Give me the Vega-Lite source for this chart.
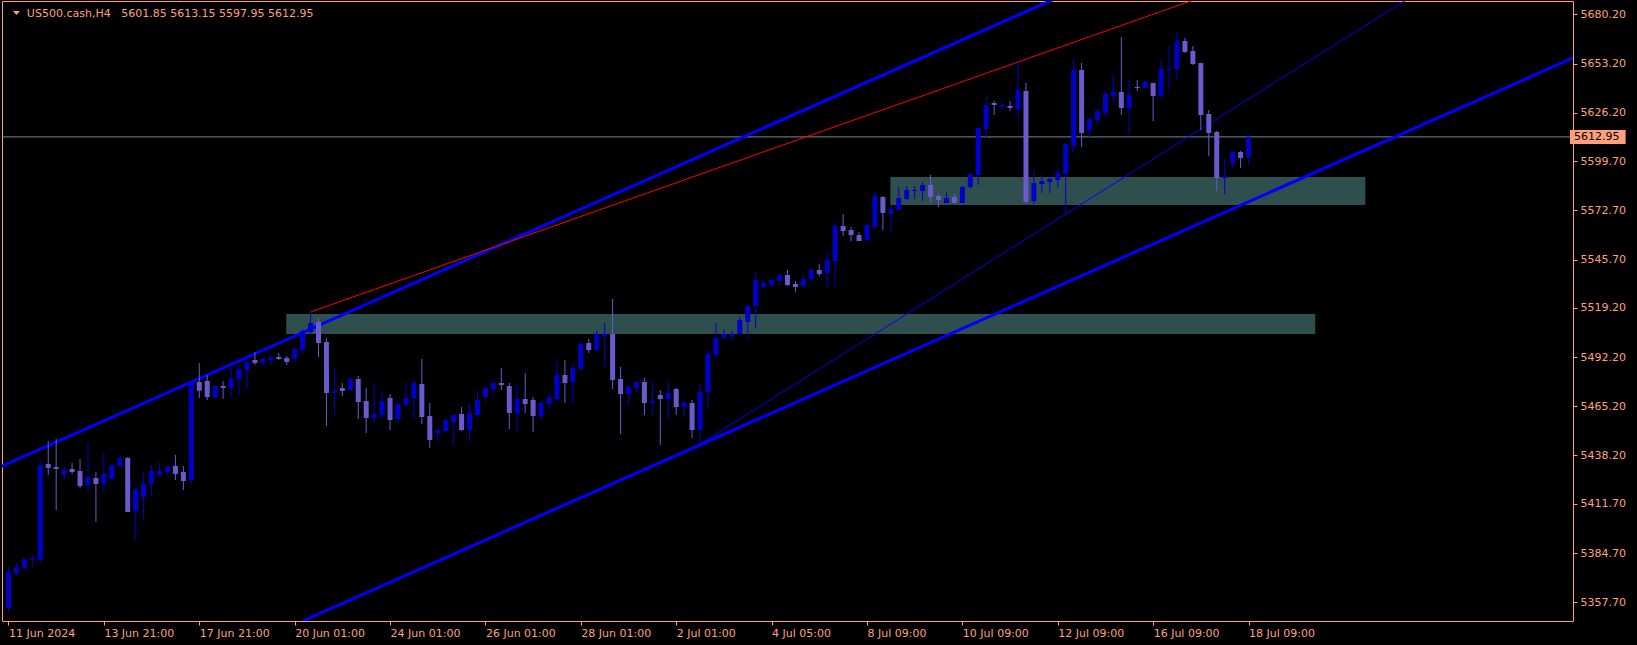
{
  "$schema": "https://vega.github.io/schema/vega-lite/v6.json",
  "width": 1571,
  "height": 620,
  "autosize": "none",
  "padding": {"left": 2, "top": 1, "right": 64, "bottom": 24},
  "background": "#000000",
  "config": {
    "view": {"stroke": "#FFA07A", "strokeWidth": 1},
    "font": "DejaVu Sans"
  },
  "resolve": {"axis": {"x": "independent", "y": "independent"}},
  "datasets": {
    "candles": [
      {"i":0,"o":5354.55,"h":5377.75,"l":5352.36,"c":5374.30},
      {"i":1,"o":5373.58,"h":5379.40,"l":5372.27,"c":5376.88},
      {"i":2,"o":5376.66,"h":5381.50,"l":5375.94,"c":5381.26},
      {"i":3,"o":5381.04,"h":5383.62,"l":5376.88,"c":5381.98},
      {"i":4,"o":5380.88,"h":5435.73,"l":5379.78,"c":5432.82},
      {"i":5,"o":5433.54,"h":5446.15,"l":5427.50,"c":5431.34},
      {"i":6,"o":5431.89,"h":5447.25,"l":5408.30,"c":5430.79},
      {"i":7,"o":5427.50,"h":5432.44,"l":5424.76,"c":5430.24},
      {"i":8,"o":5430.79,"h":5434.08,"l":5428.05,"c":5429.15},
      {"i":9,"o":5429.70,"h":5436.28,"l":5420.37,"c":5421.47},
      {"i":10,"o":5422.02,"h":5445.60,"l":5418.34,"c":5426.41},
      {"i":11,"o":5425.86,"h":5429.15,"l":5401.72,"c":5422.57},
      {"i":12,"o":5422.73,"h":5439.57,"l":5418.73,"c":5428.05},
      {"i":13,"o":5425.31,"h":5433.54,"l":5424.76,"c":5432.99},
      {"i":14,"o":5432.44,"h":5437.38,"l":5431.89,"c":5436.83},
      {"i":15,"o":5436.83,"h":5437.38,"l":5407.21,"c":5407.21},
      {"i":16,"o":5407.76,"h":5420.92,"l":5391.85,"c":5419.82},
      {"i":17,"o":5415.44,"h":5429.15,"l":5403.37,"c":5422.57},
      {"i":18,"o":5422.73,"h":5432.99,"l":5415.98,"c":5429.70},
      {"i":19,"o":5427.50,"h":5434.08,"l":5426.95,"c":5429.70},
      {"i":20,"o":5429.15,"h":5432.99,"l":5427.50,"c":5431.89},
      {"i":21,"o":5432.44,"h":5438.47,"l":5424.76,"c":5428.05},
      {"i":22,"o":5429.15,"h":5432.44,"l":5419.27,"c":5424.21},
      {"i":23,"o":5424.76,"h":5479.61,"l":5422.57,"c":5478.51},
      {"i":24,"o":5478.51,"h":5488.93,"l":5469.74,"c":5473.74},
      {"i":25,"o":5479.06,"h":5482.35,"l":5468.64,"c":5470.29},
      {"i":26,"o":5469.90,"h":5476.50,"l":5469.70,"c":5476.32},
      {"i":27,"o":5476.32,"h":5479.06,"l":5469.19,"c":5475.22},
      {"i":28,"o":5475.22,"h":5486.74,"l":5470.29,"c":5480.16},
      {"i":29,"o":5480.16,"h":5488.39,"l":5471.38,"c":5485.64},
      {"i":30,"o":5485.09,"h":5491.13,"l":5474.67,"c":5489.48},
      {"i":31,"o":5490.58,"h":5494.97,"l":5487.84,"c":5488.93},
      {"i":32,"o":5488.93,"h":5491.68,"l":5487.29,"c":5491.13},
      {"i":33,"o":5490.58,"h":5493.87,"l":5487.84,"c":5492.23},
      {"i":34,"o":5492.23,"h":5494.42,"l":5490.58,"c":5491.13},
      {"i":35,"o":5491.68,"h":5492.77,"l":5487.84,"c":5489.48},
      {"i":36,"o":5491.13,"h":5497.71,"l":5489.48,"c":5496.61},
      {"i":37,"o":5496.06,"h":5507.58,"l":5493.87,"c":5506.49},
      {"i":38,"o":5505.94,"h":5516.91,"l":5504.29,"c":5510.87},
      {"i":39,"o":5511.42,"h":5513.62,"l":5492.23,"c":5499.90},
      {"i":40,"o":5500.45,"h":5502.65,"l":5454.38,"c":5472.48},
      {"i":41,"o":5472.48,"h":5485.64,"l":5460.41,"c":5473.58},
      {"i":42,"o":5475.22,"h":5477.96,"l":5470.83,"c":5473.58},
      {"i":43,"o":5474.12,"h":5481.26,"l":5473.03,"c":5480.16},
      {"i":44,"o":5480.16,"h":5481.80,"l":5458.22,"c":5467.54},
      {"i":45,"o":5468.09,"h":5475.22,"l":5450.54,"c":5458.77},
      {"i":46,"o":5458.77,"h":5477.96,"l":5456.02,"c":5460.96},
      {"i":47,"o":5460.41,"h":5473.58,"l":5458.22,"c":5468.09},
      {"i":48,"o":5469.74,"h":5471.93,"l":5452.18,"c":5457.67},
      {"i":49,"o":5458.22,"h":5466.99,"l":5456.02,"c":5466.45},
      {"i":50,"o":5465.90,"h":5478.51,"l":5465.35,"c":5469.74},
      {"i":51,"o":5469.74,"h":5479.61,"l":5458.22,"c":5477.96},
      {"i":52,"o":5477.42,"h":5491.13,"l":5455.48,"c":5459.32},
      {"i":53,"o":5459.86,"h":5466.99,"l":5442.31,"c":5446.70},
      {"i":54,"o":5450.54,"h":5452.73,"l":5446.15,"c":5452.18},
      {"i":55,"o":5451.64,"h":5458.77,"l":5451.09,"c":5457.67},
      {"i":56,"o":5456.57,"h":5460.96,"l":5443.96,"c":5460.41},
      {"i":57,"o":5460.96,"h":5464.80,"l":5451.64,"c":5452.18},
      {"i":58,"o":5452.18,"h":5466.45,"l":5445.60,"c":5461.51},
      {"i":59,"o":5460.41,"h":5473.58,"l":5458.77,"c":5468.64},
      {"i":60,"o":5470.29,"h":5475.77,"l":5467.54,"c":5475.22},
      {"i":61,"o":5474.67,"h":5478.51,"l":5472.48,"c":5477.96},
      {"i":62,"o":5477.96,"h":5486.19,"l":5474.12,"c":5476.87},
      {"i":63,"o":5476.32,"h":5477.96,"l":5452.73,"c":5461.51},
      {"i":64,"o":5461.51,"h":5476.32,"l":5451.09,"c":5469.19},
      {"i":65,"o":5469.19,"h":5483.45,"l":5461.51,"c":5466.45},
      {"i":66,"o":5468.64,"h":5470.29,"l":5451.09,"c":5459.86},
      {"i":67,"o":5459.86,"h":5467.54,"l":5457.12,"c":5466.99},
      {"i":68,"o":5466.45,"h":5471.38,"l":5463.15,"c":5470.29},
      {"i":69,"o":5469.19,"h":5490.03,"l":5467.54,"c":5482.35},
      {"i":70,"o":5482.35,"h":5490.58,"l":5466.99,"c":5477.96},
      {"i":71,"o":5478.51,"h":5488.39,"l":5466.45,"c":5486.19},
      {"i":72,"o":5485.64,"h":5500.45,"l":5485.09,"c":5499.36},
      {"i":73,"o":5499.90,"h":5502.10,"l":5494.42,"c":5496.06},
      {"i":74,"o":5496.06,"h":5506.49,"l":5495.52,"c":5504.84},
      {"i":75,"o":5503.74,"h":5510.87,"l":5486.74,"c":5504.84},
      {"i":76,"o":5504.84,"h":5524.04,"l":5474.67,"c":5479.61},
      {"i":77,"o":5480.16,"h":5486.74,"l":5449.99,"c":5471.93},
      {"i":78,"o":5471.93,"h":5476.32,"l":5465.35,"c":5475.77},
      {"i":79,"o":5475.22,"h":5478.51,"l":5472.48,"c":5478.51},
      {"i":80,"o":5478.51,"h":5480.71,"l":5460.41,"c":5466.99},
      {"i":81,"o":5466.99,"h":5479.06,"l":5460.41,"c":5468.09},
      {"i":82,"o":5471.38,"h":5474.12,"l":5443.96,"c":5469.19},
      {"i":83,"o":5469.19,"h":5479.06,"l":5458.22,"c":5472.48},
      {"i":84,"o":5474.67,"h":5475.22,"l":5460.41,"c":5464.80},
      {"i":85,"o":5464.80,"h":5468.09,"l":5459.32,"c":5467.54},
      {"i":86,"o":5466.99,"h":5468.64,"l":5447.80,"c":5452.18},
      {"i":87,"o":5452.18,"h":5477.42,"l":5444.51,"c":5473.03},
      {"i":88,"o":5473.03,"h":5495.52,"l":5464.25,"c":5493.87},
      {"i":89,"o":5493.32,"h":5510.87,"l":5492.23,"c":5502.65},
      {"i":90,"o":5502.65,"h":5507.58,"l":5501.55,"c":5504.84},
      {"i":91,"o":5503.74,"h":5506.49,"l":5501.00,"c":5504.84},
      {"i":92,"o":5504.84,"h":5514.17,"l":5504.29,"c":5512.52},
      {"i":93,"o":5511.42,"h":5521.30,"l":5501.55,"c":5520.20},
      {"i":94,"o":5520.20,"h":5538.85,"l":5508.13,"c":5534.46},
      {"i":95,"o":5530.62,"h":5535.01,"l":5529.52,"c":5532.81},
      {"i":96,"o":5531.72,"h":5535.01,"l":5530.62,"c":5534.46},
      {"i":97,"o":5533.91,"h":5537.75,"l":5531.72,"c":5537.20},
      {"i":98,"o":5537.20,"h":5539.94,"l":5531.17,"c":5531.72},
      {"i":99,"o":5532.27,"h":5533.91,"l":5527.88,"c":5530.62},
      {"i":100,"o":5531.17,"h":5537.20,"l":5530.07,"c":5535.01},
      {"i":101,"o":5535.01,"h":5540.49,"l":5533.91,"c":5539.94},
      {"i":102,"o":5539.94,"h":5543.24,"l":5536.65,"c":5537.75},
      {"i":103,"o":5538.30,"h":5549.82,"l":5530.62,"c":5545.43},
      {"i":104,"o":5544.88,"h":5565.72,"l":5530.62,"c":5564.08},
      {"i":105,"o":5564.08,"h":5570.66,"l":5558.59,"c":5561.34},
      {"i":106,"o":5561.88,"h":5563.53,"l":5555.85,"c":5559.14},
      {"i":107,"o":5559.14,"h":5560.79,"l":5555.85,"c":5555.85},
      {"i":108,"o":5556.40,"h":5565.72,"l":5555.30,"c":5564.63},
      {"i":109,"o":5563.53,"h":5582.73,"l":5562.98,"c":5580.53},
      {"i":110,"o":5579.99,"h":5580.53,"l":5561.88,"c":5571.21},
      {"i":111,"o":5570.66,"h":5575.60,"l":5560.79,"c":5573.40},
      {"i":112,"o":5572.85,"h":5585.47,"l":5572.85,"c":5579.44},
      {"i":113,"o":5578.89,"h":5586.02,"l":5578.34,"c":5583.82},
      {"i":114,"o":5583.28,"h":5586.02,"l":5578.89,"c":5583.82},
      {"i":115,"o":5583.28,"h":5588.21,"l":5577.79,"c":5586.57},
      {"i":116,"o":5586.57,"h":5592.05,"l":5576.69,"c":5579.99},
      {"i":117,"o":5580.53,"h":5581.63,"l":5574.50,"c":5578.34},
      {"i":118,"o":5576.69,"h":5582.73,"l":5576.69,"c":5579.44},
      {"i":119,"o":5579.99,"h":5581.63,"l":5576.69,"c":5576.69},
      {"i":120,"o":5576.69,"h":5586.02,"l":5576.69,"c":5585.47},
      {"i":121,"o":5585.47,"h":5593.15,"l":5584.37,"c":5592.60},
      {"i":122,"o":5592.05,"h":5618.38,"l":5586.57,"c":5617.83},
      {"i":123,"o":5617.28,"h":5635.93,"l":5612.90,"c":5630.45},
      {"i":124,"o":5631.54,"h":5632.64,"l":5624.96,"c":5630.45},
      {"i":125,"o":5629.35,"h":5632.64,"l":5628.25,"c":5630.45},
      {"i":126,"o":5629.90,"h":5632.64,"l":5627.16,"c":5628.80},
      {"i":127,"o":5628.25,"h":5654.03,"l":5623.32,"c":5638.67},
      {"i":128,"o":5638.13,"h":5642.51,"l":5576.15,"c":5577.24},
      {"i":129,"o":5577.79,"h":5594.25,"l":5576.15,"c":5587.66},
      {"i":130,"o":5587.12,"h":5592.05,"l":5582.18,"c":5588.76},
      {"i":131,"o":5588.21,"h":5590.96,"l":5582.18,"c":5589.86},
      {"i":132,"o":5589.31,"h":5594.79,"l":5584.92,"c":5593.15},
      {"i":133,"o":5592.60,"h":5609.60,"l":5570.66,"c":5609.06},
      {"i":134,"o":5607.96,"h":5656.23,"l":5604.12,"c":5649.64},
      {"i":135,"o":5649.64,"h":5653.48,"l":5607.41,"c":5615.09},
      {"i":136,"o":5616.73,"h":5623.32,"l":5612.90,"c":5622.77},
      {"i":137,"o":5622.22,"h":5628.25,"l":5620.03,"c":5627.16},
      {"i":138,"o":5626.06,"h":5638.13,"l":5624.96,"c":5636.48},
      {"i":139,"o":5635.38,"h":5646.35,"l":5631.54,"c":5637.58},
      {"i":140,"o":5637.58,"h":5667.75,"l":5624.96,"c":5628.80},
      {"i":141,"o":5628.80,"h":5644.71,"l":5614.54,"c":5635.93},
      {"i":142,"o":5640.32,"h":5644.16,"l":5638.13,"c":5639.77},
      {"i":143,"o":5639.77,"h":5644.16,"l":5639.77,"c":5643.06},
      {"i":144,"o":5642.51,"h":5642.51,"l":5621.67,"c":5635.38},
      {"i":145,"o":5635.38,"h":5655.13,"l":5634.29,"c":5650.19},
      {"i":146,"o":5649.64,"h":5663.36,"l":5638.67,"c":5650.19},
      {"i":147,"o":5650.19,"h":5670.49,"l":5644.16,"c":5665.55},
      {"i":148,"o":5665.55,"h":5667.20,"l":5658.97,"c":5659.52},
      {"i":149,"o":5660.07,"h":5662.81,"l":5652.39,"c":5652.94},
      {"i":150,"o":5653.48,"h":5653.48,"l":5616.73,"c":5624.96},
      {"i":151,"o":5625.51,"h":5627.70,"l":5602.47,"c":5615.09},
      {"i":152,"o":5615.64,"h":5616.19,"l":5583.28,"c":5590.41},
      {"i":153,"o":5590.41,"h":5601.38,"l":5581.63,"c":5591.50},
      {"i":154,"o":5598.63,"h":5605.22,"l":5595.89,"c":5604.67},
      {"i":155,"o":5604.67,"h":5605.22,"l":5595.89,"c":5601.38},
      {"i":156,"o":5601.85,"h":5613.15,"l":5597.95,"c":5612.95}
    ],
    "zones": [
      {"i1": 34.94, "i2": 164.4, "lo": 5504.84, "hi": 5515.81},
      {"i1": 110.94, "i2": 170.7, "lo": 5575.60, "hi": 5590.96}
    ],
    "channel": [
      {"line": "upper", "i": -1, "p": 5432.07},
      {"line": "upper", "i": 140, "p": 5704.9},
      {"line": "lower", "i": 37, "p": 5347.42},
      {"line": "lower", "i": 200, "p": 5662.4}
    ],
    "redline": [
      {"i": 38, "p": 5516.91},
      {"i": 127, "p": 5654.03},
      {"i": 160, "p": 5704.88}
    ],
    "thinline": [
      {"i": 87, "p": 5444.51},
      {"i": 133, "p": 5570.66},
      {"i": 190, "p": 5726.95}
    ],
    "last": [{"p": 5612.95}],
    "header": [{"label": "US500.cash,H4\u00a0\u00a0 5601.85 5613.15 5597.95 5612.95"}]
  },
  "layer": [
    {
      "data": {"name": "zones"},
      "mark": {"type": "rect", "color": "#2F4F4F", "clip": true},
      "encoding": {
        "x": {"field": "i1", "type": "quantitative", "scale": {"domain": [-0.1875, 196.19], "nice": false, "zero": false}, "axis": null},
        "x2": {"field": "i2"},
        "y": {"field": "lo", "type": "quantitative", "scale": {"domain": [5347.42, 5687.49], "nice": false, "zero": false}, "axis": null},
        "y2": {"field": "hi"}
      }
    },
    {
      "data": {"name": "last"},
      "mark": {"type": "rule", "color": "#778899", "strokeWidth": 1},
      "encoding": {
        "y": {"field": "p", "type": "quantitative", "axis": null}
      }
    },
    {
      "data": {"name": "channel"},
      "mark": {"type": "line", "color": "#0000FF", "strokeWidth": 3, "clip": true},
      "encoding": {
        "x": {"field": "i", "type": "quantitative", "axis": null},
        "y": {"field": "p", "type": "quantitative", "axis": null},
        "detail": {"field": "line", "type": "nominal"}
      }
    },
    {
      "data": {"name": "redline"},
      "mark": {"type": "line", "color": "#FF0000", "strokeWidth": 1, "clip": true},
      "encoding": {
        "x": {"field": "i", "type": "quantitative", "axis": null},
        "y": {"field": "p", "type": "quantitative", "axis": null}
      }
    },
    {
      "data": {"name": "thinline"},
      "mark": {"type": "line", "color": "#0000FF", "strokeWidth": 1, "clip": true},
      "encoding": {
        "x": {"field": "i", "type": "quantitative", "axis": null},
        "y": {"field": "p", "type": "quantitative", "axis": null}
      }
    },
    {
      "data": {"name": "candles"},
      "mark": {"type": "rule", "strokeWidth": 1, "clip": true},
      "encoding": {
        "x": {
          "field": "i", "type": "quantitative",
          "axis": {
            "values": [0, 12, 24, 36, 48, 60, 72, 84, 96, 108, 120, 132, 144, 156],
            "labelExpr": "['11 Jun 2024','13 Jun 21:00','17 Jun 21:00','20 Jun 01:00','24 Jun 01:00','26 Jun 01:00','28 Jun 01:00','2 Jul 01:00','4 Jul 05:00','8 Jul 09:00','10 Jul 09:00','12 Jul 09:00','16 Jul 09:00','18 Jul 09:00'][round(datum.value/12)]",
            "labelAlign": "left",
            "labelDx": 0.5,
            "labelColor": "#FFA07A",
            "labelFont": "DejaVu Sans",
            "labelFontSize": 11,
            "labelPadding": 2,
            "labelOverlap": false,
            "labelFlush": false,
            "tickColor": "#FFA07A",
            "tickSize": 4,
            "domain": false,
            "grid": false,
            "title": null
          }
        },
        "y": {
          "field": "l", "type": "quantitative",
          "axis": {
            "orient": "right",
            "values": [5680.2, 5653.2, 5626.2, 5599.7, 5572.7, 5545.7, 5519.2, 5492.2, 5465.2, 5438.2, 5411.7, 5384.7, 5357.7],
            "format": ".2f",
            "labelColor": "#FFA07A",
            "labelFont": "DejaVu Sans",
            "labelFontSize": 11,
            "labelPadding": 3,
            "labelOverlap": false,
            "labelFlush": false,
            "tickColor": "#FFA07A",
            "tickSize": 4,
            "domain": false,
            "grid": false,
            "title": null
          }
        },
        "y2": {"field": "h"},
        "color": {
          "condition": {"test": "datum.c >= datum.o", "value": "#0000CD"},
          "value": "#6A5ACD"
        }
      }
    },
    {
      "data": {"name": "candles"},
      "mark": {"type": "bar", "width": 5, "clip": true},
      "encoding": {
        "x": {"field": "i", "type": "quantitative", "axis": null},
        "y": {"field": "o", "type": "quantitative", "axis": null},
        "y2": {"field": "c"},
        "color": {
          "condition": {"test": "datum.c >= datum.o", "value": "#0000CD"},
          "value": "#6A5ACD"
        }
      }
    },
    {
      "data": {"name": "last"},
      "mark": {"type": "rect", "color": "#FFA07A", "clip": false},
      "encoding": {
        "x": {"datum": 196.44, "type": "quantitative", "axis": null},
        "x2": {"datum": 203.44},
        "y": {"datum": 5616.73, "type": "quantitative", "axis": null},
        "y2": {"datum": 5609.06}
      }
    },
    {
      "data": {"name": "last"},
      "mark": {"type": "text", "color": "#000000", "align": "left", "baseline": "middle", "font": "DejaVu Sans", "fontSize": 11, "clip": false},
      "encoding": {
        "x": {"datum": 196.95, "type": "quantitative", "axis": null},
        "y": {"field": "p", "type": "quantitative", "axis": null},
        "text": {"field": "p", "type": "quantitative", "format": ".2f"}
      }
    },
    {
      "data": {"name": "header"},
      "mark": {"type": "point", "shape": "M-1,-0.55L1,-0.55L0,0.55Z", "size": 49, "filled": true, "color": "#FFA07A", "opacity": 1},
      "encoding": {
        "x": {"datum": 1.0, "type": "quantitative", "axis": null},
        "y": {"datum": 5680.91, "type": "quantitative", "axis": null}
      }
    },
    {
      "data": {"name": "header"},
      "mark": {"type": "text", "color": "#FFA07A", "align": "left", "baseline": "alphabetic", "font": "DejaVu Sans", "fontSize": 11},
      "encoding": {
        "x": {"datum": 2.3125, "type": "quantitative", "axis": null},
        "y": {"datum": 5678.88, "type": "quantitative", "axis": null},
        "text": {"field": "label", "type": "nominal"}
      }
    }
  ]
}
